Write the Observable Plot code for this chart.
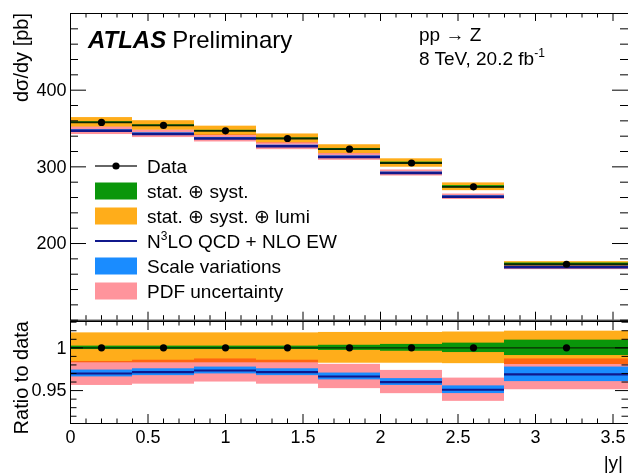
<!DOCTYPE html>
<html><head><meta charset="utf-8">
<script src="https://cdn.jsdelivr.net/npm/d3@7"></script>
<script src="https://cdn.jsdelivr.net/npm/@observablehq/plot@0.6"></script>
<style>
body{margin:0;background:#fff;}
#chart{position:relative;width:628px;height:475px;overflow:hidden;font-family:"Liberation Sans",Arial,Helvetica,sans-serif;}
#chart svg{position:absolute;left:0;max-width:none;}
</style></head><body><div id="chart"></div>
<script>
// ---- data ----
const binLow  = [0, 0.4, 0.8, 1.2, 1.6, 2.0, 2.4, 2.8];
const binHigh = [0.4, 0.8, 1.2, 1.6, 2.0, 2.4, 2.8, 3.6];
const dataXsec = [358, 354, 347, 337, 323, 305, 274, 173];          // pb
const predXsec = [347, 343, 337, 327, 313, 292, 261, 169];          // pb
const relErrStatSyst = [0.002, 0.002, 0.002, 0.002, 0.003, 0.004, 0.0055, 0.009];
const relErrTotal    = [0.0175, 0.0175, 0.0175, 0.0175, 0.018, 0.018, 0.0185, 0.0195];
const predRatio      = [0.970, 0.9715, 0.9735, 0.9715, 0.9665, 0.960, 0.951, 0.969];
const relErrPDF      = [0.014, 0.014, 0.0135, 0.014, 0.0142, 0.0136, 0.0136, 0.018];
const relErrScale    = [0.004, 0.004, 0.004, 0.004, 0.004, 0.004, 0.0045, 0.0085];

const xTickLabels = [0, 0.5, 1, 1.5, 2, 2.5, 3, 3.5];
const yTopTickLabels = [200, 300, 400];
const yRatioTickLabels = [0.95, 1];
const legendLabels = ["Data", "stat. ⊕ syst.", "stat. ⊕ syst. ⊕ lumi", "N3LO QCD + NLO EW", "Scale variations", "PDF uncertainty"];

const COL = {green: "#0a960a", orange: "#ffad1a", pink: "#ff949c", blue: "#1a8cff", navy: "#10188c"};
const FONT = '"Liberation Sans", Arial, Helvetica, sans-serif';

const bins = binLow.map((lo, i) => ({
  lo, hi: binHigh[i], c: (lo + binHigh[i]) / 2,
  data: dataXsec[i], pred: predXsec[i],
  eS: relErrStatSyst[i], eT: relErrTotal[i],
  r: predRatio[i], pdf: relErrPDF[i], sc: relErrScale[i]
}));

const X0 = 0, X1 = 3.6;
const xMinor = d3.range(0, 37).map(v => v / 10).filter(v => !xTickLabels.includes(v));

function yTickRules(values, len) {
  return [
    Plot.ruleY(values, {y: d => d, x1: X0, x2: X0, insetRight: -len, stroke: "#000"}),
    Plot.ruleY(values, {y: d => d, x1: X1, x2: X1, insetLeft: -len, stroke: "#000"})
  ];
}
function xTickRules(values, len, yb, yt) {
  return [
    Plot.ruleX(values, {x: d => d, y1: yb, y2: yb, insetTop: -len, stroke: "#000"}),
    Plot.ruleX(values, {x: d => d, y1: yt, y2: yt, insetBottom: -len, stroke: "#000"})
  ];
}

const chart = document.getElementById("chart");

// ---- upper panel ----
const yTopDom = [100, 500];
const yTopMinor = d3.range(100, 501, 20).filter(v => !yTopTickLabels.includes(v));
const upper = Plot.plot({
  width: 628, height: 321, marginTop: 13, marginBottom: 1.3, marginLeft: 70, marginRight: 0,
  style: {fontFamily: FONT, fontSize: "18px", color: "#000", background: "transparent", overflow: "visible"},
  x: {domain: [X0, X1], axis: null},
  y: {domain: yTopDom},
  marks: [
    Plot.rect(bins, {x1: "lo", x2: "hi", y1: d => d.data * (1 - d.eT), y2: d => d.data * (1 + d.eT), fill: COL.orange}),
    Plot.rect(bins, {x1: "lo", x2: "hi", y1: d => d.data * (1 - d.eS), y2: d => d.data * (1 + d.eS), fill: COL.green}),
    Plot.rect(bins, {x1: "lo", x2: "hi", y1: d => d.pred * (1 - d.pdf), y2: d => d.pred * (1 + d.pdf), fill: COL.pink, mixBlendMode: "multiply"}),
    Plot.rect(bins, {x1: "lo", x2: "hi", y1: d => d.pred * (1 - d.sc), y2: d => d.pred * (1 + d.sc), fill: COL.blue}),
    Plot.ruleY(bins, {y: "pred", x1: "lo", x2: "hi", stroke: COL.navy, strokeWidth: 2.5}),
    Plot.ruleY(bins, {y: "data", x1: "lo", x2: "hi", stroke: "#0b2a05", strokeWidth: 1.8}),
    Plot.dot(bins, {x: "c", y: "data", r: 3.6, fill: "#000"}),
    ...yTickRules(yTopTickLabels, 16),
    ...yTickRules(yTopMinor, 8),
    ...xTickRules(xTickLabels, 8, yTopDom[0], yTopDom[1]),
    ...xTickRules(xMinor, 4.5, yTopDom[0], yTopDom[1]),
    Plot.axisY(yTopTickLabels, {tickSize: 0, tickPadding: 4, tickFormat: d => String(d), label: null, fontSize: 18}),
    Plot.frame({stroke: "#000"})
  ]
});
upper.style.top = "0px";
chart.appendChild(upper);

// ---- lower (ratio) panel ----
const yRatDom = [0.9115, 1.0308];
const yRatMinor = d3.range(92, 104).map(v => v / 100).filter(v => !yRatioTickLabels.includes(v));
const lower = Plot.plot({
  width: 628, height: 154, marginTop: 0, marginBottom: 52, marginLeft: 70, marginRight: 0,
  style: {fontFamily: FONT, fontSize: "18px", color: "#000", background: "transparent", overflow: "visible"},
  x: {domain: [X0, X1]},
  y: {domain: yRatDom},
  marks: [
    Plot.rect(bins, {x1: "lo", x2: "hi", y1: d => 1 - d.eT, y2: d => 1 + d.eT, fill: COL.orange}),
    Plot.rect(bins, {x1: "lo", x2: "hi", y1: d => 1 - d.eS, y2: d => 1 + d.eS, fill: COL.green}),
    Plot.rect(bins, {x1: "lo", x2: "hi", y1: d => d.r - d.pdf, y2: d => d.r + d.pdf, fill: COL.pink, mixBlendMode: "multiply"}),
    Plot.rect(bins, {x1: "lo", x2: "hi", y1: d => d.r - d.sc, y2: d => d.r + d.sc, fill: COL.blue}),
    Plot.ruleY(bins, {y: "r", x1: "lo", x2: "hi", stroke: COL.navy, strokeWidth: 2.2}),
    Plot.ruleY(bins, {y: () => 1, x1: "lo", x2: "hi", stroke: "#0b2a05", strokeWidth: 1.3}),
    Plot.dot(bins, {x: "c", y: () => 1, r: 3.6, fill: "#000"}),
    ...yTickRules(yRatioTickLabels, 13),
    ...yTickRules(yRatMinor, 6.5),
    ...xTickRules(xTickLabels, 9, yRatDom[0], yRatDom[1]),
    ...xTickRules(xMinor, 4.5, yRatDom[0], yRatDom[1]),
    Plot.axisY(yRatioTickLabels, {tickSize: 0, tickPadding: 4, tickFormat: d => String(d), label: null, fontSize: 18}),
    Plot.axisX(xTickLabels, {tickSize: 0, tickPadding: 7, tickFormat: d => String(d), label: null, fontSize: 18}),
    Plot.frame({stroke: "#000"})
  ]
});
lower.style.top = "321px";
chart.appendChild(lower);

// ---- overlay: titles, axis titles, legend ----
const ov = d3.select(chart).append("svg")
  .attr("width", 628).attr("height", 475)
  .style("top", "0px").style("pointer-events", "none")
  .style("font-family", FONT);

const t1 = ov.append("text").attr("x", 88).attr("y", 48).attr("font-size", 24).attr("fill", "#000");
t1.append("tspan").attr("font-weight", "bold").attr("font-style", "italic").text("ATLAS");
t1.append("tspan").attr("dx", 6).text("Preliminary");

ov.append("text").attr("x", 419).attr("y", 41).attr("font-size", 19).text("pp → Z");
const t2 = ov.append("text").attr("x", 419).attr("y", 65).attr("font-size", 19);
t2.append("tspan").text("8 TeV, 20.2 fb");
t2.append("tspan").attr("dy", -8).attr("font-size", 12).text("-1");

ov.append("text").attr("transform", "translate(28,13) rotate(-90)").attr("text-anchor", "end")
  .attr("font-size", 20).text("dσ/dy [pb]");
ov.append("text").attr("transform", "translate(28,321) rotate(-90)").attr("text-anchor", "end")
  .attr("font-size", 20).text("Ratio to data");
ov.append("text").attr("x", 623).attr("y", 469).attr("text-anchor", "end").attr("font-size", 19).text("|y|");

// legend
const lg = ov.append("g");
const ly0 = 166, lstep = 25, bx0 = 95, bx1 = 137, tx = 147;
legendLabels.forEach((lab, i) => {
  const cy = ly0 + i * lstep;
  if (i === 0) {
    lg.append("line").attr("x1", bx0).attr("x2", bx1).attr("y1", cy).attr("y2", cy).attr("stroke", "#333").attr("stroke-width", 1.5);
    lg.append("circle").attr("cx", (bx0 + bx1) / 2).attr("cy", cy).attr("r", 3.6).attr("fill", "#000");
  } else if (i === 3) {
    lg.append("line").attr("x1", bx0).attr("x2", bx1).attr("y1", cy).attr("y2", cy).attr("stroke", COL.navy).attr("stroke-width", 2);
  } else {
    const c = [null, COL.green, COL.orange, null, COL.blue, COL.pink][i];
    lg.append("rect").attr("x", bx0).attr("y", cy - 8.5).attr("width", bx1 - bx0).attr("height", 17).attr("fill", c);
  }
  const t = lg.append("text").attr("x", tx).attr("y", cy + 7).attr("font-size", 19).attr("fill", "#000");
  if (i === 3) {
    t.append("tspan").text(lab.slice(0, 1));
    t.append("tspan").attr("dy", -8).attr("font-size", 12).text(lab.slice(1, 2));
    t.append("tspan").attr("dy", 8).text(lab.slice(2));
  } else {
    t.text(lab);
  }
});
</script>
</body></html>
